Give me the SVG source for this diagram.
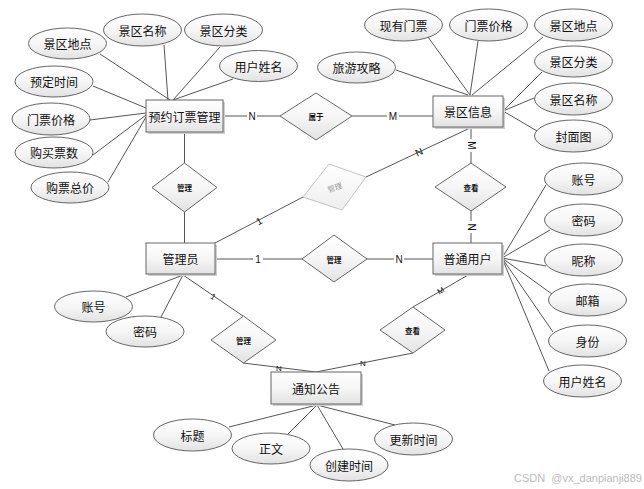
<svg xmlns="http://www.w3.org/2000/svg" width="644" height="489" viewBox="0 0 644 489">
<defs>
<linearGradient id="g" x1="0" y1="0" x2="0" y2="1">
<stop offset="0" stop-color="#ffffff"/>
<stop offset="0.5" stop-color="#f6f6f6"/>
<stop offset="1" stop-color="#e2e2e2"/>
</linearGradient>
<linearGradient id="gg" x1="0" y1="0" x2="0" y2="1">
<stop offset="0" stop-color="#ffffff"/>
<stop offset="1" stop-color="#eeeeee"/>
</linearGradient>
</defs>
<style>
.bg{fill:#ffffff}
.ent{fill:url(#g);stroke:#666;stroke-width:1}
.sh{fill:#cfcfcf}
.att{fill:url(#g);stroke:#555;stroke-width:0.9}
.rel{fill:url(#g);stroke:#555;stroke-width:0.9}
.relg{fill:url(#gg);stroke:#bbb;stroke-width:0.9}
.ln{stroke:#555;stroke-width:1;fill:none}
.t{font-family:"Noto Sans CJK SC","Liberation Sans",sans-serif;font-size:12px;fill:#111;text-anchor:middle;dominant-baseline:central}
.tr{font-family:"Noto Sans CJK SC","Liberation Sans",sans-serif;font-size:7.5px;font-weight:bold;fill:#111;text-anchor:middle;dominant-baseline:central}
.tg{font-family:"Noto Sans CJK SC","Liberation Sans",sans-serif;font-size:7.5px;fill:#999;text-anchor:middle;dominant-baseline:central}
.lb{font-family:"Liberation Sans",sans-serif;font-size:10px;fill:#111;text-anchor:middle;dominant-baseline:central}
.lbs{font-family:"Liberation Sans",sans-serif;font-size:8px;fill:#111;text-anchor:middle;dominant-baseline:central}
.wm{font-family:"Liberation Sans","Noto Sans",sans-serif;font-size:11px;fill:#bbb}
</style>
<rect class="bg" x="0" y="0" width="644" height="489"/>

<g id="connectors">
<line class="ln" x1="100" y1="54" x2="170" y2="100"/>
<line class="ln" x1="164" y1="45" x2="168" y2="100"/>
<line class="ln" x1="220" y1="47" x2="173" y2="100"/>
<line class="ln" x1="233" y1="79" x2="173" y2="100"/>
<line class="ln" x1="93" y1="86" x2="146" y2="108"/>
<line class="ln" x1="90" y1="120" x2="146" y2="113"/>
<line class="ln" x1="93" y1="155" x2="146" y2="115"/>
<line class="ln" x1="108" y1="182" x2="146" y2="117"/>
<line class="ln" x1="428" y1="37" x2="470" y2="95"/>
<line class="ln" x1="478" y1="41" x2="470" y2="95"/>
<line class="ln" x1="543" y1="37" x2="472" y2="95"/>
<line class="ln" x1="396" y1="70" x2="468" y2="95"/>
<line class="ln" x1="542" y1="72" x2="503" y2="111"/>
<line class="ln" x1="534" y1="98" x2="503" y2="111"/>
<line class="ln" x1="537" y1="131" x2="503" y2="111" stroke="#222"/>
<line class="ln" x1="502" y1="258" x2="546" y2="185"/>
<line class="ln" x1="502" y1="258" x2="550" y2="230"/>
<line class="ln" x1="502" y1="258" x2="546" y2="266"/>
<line class="ln" x1="502" y1="258" x2="552" y2="294"/>
<line class="ln" x1="502" y1="258" x2="553" y2="332"/>
<line class="ln" x1="502" y1="258" x2="549" y2="371"/>
<line class="ln" x1="126" y1="297" x2="183" y2="275"/>
<line class="ln" x1="161" y1="317" x2="183" y2="275"/>
<line class="ln" x1="317" y1="405" x2="229" y2="427"/>
<line class="ln" x1="317" y1="405" x2="288" y2="434"/>
<line class="ln" x1="317" y1="405" x2="343" y2="449"/>
<line class="ln" x1="317" y1="405" x2="395" y2="425"/>
<line class="ln" x1="223" y1="116" x2="280" y2="116"/>
<line class="ln" x1="352" y1="116" x2="433" y2="116"/>
<line class="ln" x1="184.5" y1="132" x2="184.5" y2="163"/>
<line class="ln" x1="184.5" y1="212" x2="184.5" y2="243"/>
<line class="ln" x1="471" y1="127" x2="471" y2="163"/>
<line class="ln" x1="471" y1="211" x2="471" y2="243"/>
<line class="ln" x1="470" y1="128" x2="366" y2="177"/>
<line class="ln" x1="303" y1="197" x2="215" y2="243"/>
<line class="ln" x1="215" y1="259" x2="302" y2="259"/>
<line class="ln" x1="367" y1="259" x2="433" y2="259"/>
<line class="ln" x1="183" y1="275" x2="243" y2="316"/>
<line class="ln" x1="243" y1="363" x2="316" y2="372"/>
<line class="ln" x1="413" y1="353" x2="316" y2="372"/>
<line class="ln" x1="468" y1="275" x2="413" y2="307"/>
<rect x="247" y="111" width="10" height="11" fill="#fff"/>
<text class="lb" x="252" y="116.5">N</text>
<rect x="387" y="111" width="12" height="11" fill="#fff"/>
<text class="lb" x="393" y="116.5">M</text>
<rect x="466" y="139" width="10" height="13" fill="#fff"/>
<text class="lb" x="471" y="145.5" transform="rotate(90 471 145.5)">M</text>
<rect x="466" y="221" width="10" height="12" fill="#fff"/>
<text class="lb" x="471" y="227" transform="rotate(90 471 227)">N</text>
<text class="lb" x="419" y="152" transform="rotate(-25 419 152)">N</text>
<text class="lb" x="259" y="221" transform="rotate(-28 259 221)">1</text>
<rect x="253" y="254" width="10" height="11" fill="#fff"/>
<text class="lb" x="258" y="259.5">1</text>
<rect x="394" y="254" width="10" height="11" fill="#fff"/>
<text class="lb" x="399" y="259.5">N</text>
<text class="lbs" x="213" y="297" transform="rotate(34 213 297)">1</text>
<text class="lbs" x="279" y="368">N</text>
<text class="lbs" x="363" y="363">N</text>
<text class="lbs" x="441" y="291" transform="rotate(-30 441 291)">M</text>
</g>

<g id="entity-yuyue">
<rect class="sh" x="148" y="102" width="77" height="32"/>
<rect class="ent" x="146" y="100" width="77" height="32"/>
<text class="t" x="184.5" y="116">预约订票管理</text>
</g>
<g id="entity-jingqu">
<rect class="sh" x="435" y="98" width="70" height="31"/>
<rect class="ent" x="433" y="96" width="70" height="31"/>
<text class="t" x="468" y="111.5">景区信息</text>
</g>
<g id="entity-admin">
<rect class="sh" x="148" y="245" width="69" height="31"/>
<rect class="ent" x="146" y="243" width="69" height="31"/>
<text class="t" x="180.5" y="258.5">管理员</text>
</g>
<g id="entity-user">
<rect class="sh" x="435" y="245" width="69" height="31"/>
<rect class="ent" x="433" y="243" width="69" height="31"/>
<text class="t" x="467.5" y="258.5">普通用户</text>
</g>
<g id="entity-notice">
<rect class="sh" x="273" y="374" width="90" height="32"/>
<rect class="ent" x="271" y="372" width="90" height="32"/>
<text class="t" x="316" y="388">通知公告</text>
</g>

<g id="rel-shuyu">
<polygon class="rel" points="316,93 352,116 316,140 280,116"/>
<text class="tr" x="316" y="116">属于</text>
</g>
<g id="rel-guanli-1">
<polygon class="rel" points="184.5,163 217,187.5 184.5,212 152,187.5"/>
<text class="tr" x="184.5" y="187.5">管理</text>
</g>
<g id="rel-guanli-grey">
<polygon class="relg" points="329,164 366,177 342,210 303,197"/>
<text class="tg" x="334.5" y="187" transform="rotate(-20 334.5 187)">管理</text>
</g>
<g id="rel-chakan-1">
<polygon class="rel" points="471,163 506,187 471,211 435,187"/>
<text class="tr" x="471" y="187">查看</text>
</g>
<g id="rel-guanli-2">
<polygon class="rel" points="334,235 367,259 334,282 302,259"/>
<text class="tr" x="334" y="259">管理</text>
</g>
<g id="rel-chakan-2">
<polygon class="rel" points="413,307 445,330 413,353 380,330"/>
<text class="tr" x="412.5" y="330">查看</text>
</g>
<g id="rel-guanli-3">
<polygon class="rel" points="243.5,316 276,340 243.5,363 211,340"/>
<text class="tr" x="243.5" y="340">管理</text>
</g>

<g id="attrs-yuyue">
<ellipse class="att" cx="67.5" cy="43.5" rx="39" ry="15.5"/><text class="t" x="67.5" y="43.5">景区地点</text>
<ellipse class="att" cx="142.5" cy="30" rx="39" ry="16"/><text class="t" x="142.5" y="30">景区名称</text>
<ellipse class="att" cx="223.5" cy="30" rx="39" ry="16"/><text class="t" x="223.5" y="30">景区分类</text>
<ellipse class="att" cx="258.5" cy="66" rx="39" ry="15.5"/><text class="t" x="258.5" y="66">用户姓名</text>
<ellipse class="att" cx="54" cy="81.5" rx="39" ry="15.5"/><text class="t" x="54" y="81.5">预定时间</text>
<ellipse class="att" cx="51" cy="119" rx="39" ry="16"/><text class="t" x="51" y="119">门票价格</text>
<ellipse class="att" cx="54" cy="152.5" rx="39" ry="15.5"/><text class="t" x="54" y="152.5">购买票数</text>
<ellipse class="att" cx="70" cy="187.5" rx="39" ry="15.5"/><text class="t" x="70" y="187.5">购票总价</text>
</g>
<g id="attrs-jingqu">
<ellipse class="att" cx="403.5" cy="25" rx="39" ry="16"/><text class="t" x="403.5" y="25">现有门票</text>
<ellipse class="att" cx="488.5" cy="25" rx="39" ry="16"/><text class="t" x="488.5" y="25">门票价格</text>
<ellipse class="att" cx="573.5" cy="25" rx="39" ry="16"/><text class="t" x="573.5" y="25">景区地点</text>
<ellipse class="att" cx="356.5" cy="67.5" rx="39" ry="15.5"/><text class="t" x="356.5" y="67.5">旅游攻略</text>
<ellipse class="att" cx="573.5" cy="61.5" rx="39" ry="15.5"/><text class="t" x="573.5" y="61.5">景区分类</text>
<ellipse class="att" cx="573.5" cy="99" rx="39" ry="16"/><text class="t" x="573.5" y="99">景区名称</text>
<ellipse class="att" cx="573.5" cy="136" rx="39" ry="16"/><text class="t" x="573.5" y="136">封面图</text>
</g>
<g id="attrs-user">
<ellipse class="att" cx="583.5" cy="179" rx="39" ry="16"/><text class="t" x="583.5" y="179">账号</text>
<ellipse class="att" cx="583.5" cy="220" rx="39" ry="16"/><text class="t" x="583.5" y="220">密码</text>
<ellipse class="att" cx="583.5" cy="260" rx="39" ry="16"/><text class="t" x="583.5" y="260">昵称</text>
<ellipse class="att" cx="587.5" cy="300" rx="39" ry="16"/><text class="t" x="587.5" y="300">邮箱</text>
<ellipse class="att" cx="587.5" cy="341" rx="39" ry="16"/><text class="t" x="587.5" y="341">身份</text>
<ellipse class="att" cx="582.5" cy="381" rx="39" ry="16"/><text class="t" x="582.5" y="381">用户姓名</text>
</g>
<g id="attrs-admin">
<ellipse class="att" cx="93.5" cy="306.5" rx="39" ry="15.5"/><text class="t" x="93.5" y="306.5">账号</text>
<ellipse class="att" cx="145" cy="331.5" rx="39" ry="15.5"/><text class="t" x="145" y="331.5">密码</text>
</g>
<g id="attrs-notice">
<ellipse class="att" cx="192.5" cy="435" rx="39" ry="16"/><text class="t" x="192.5" y="435">标题</text>
<ellipse class="att" cx="271" cy="448.5" rx="39" ry="15.5"/><text class="t" x="271" y="448.5">正文</text>
<ellipse class="att" cx="349" cy="465" rx="39" ry="16"/><text class="t" x="349" y="465">创建时间</text>
<ellipse class="att" cx="413.5" cy="439" rx="39" ry="16"/><text class="t" x="413.5" y="439">更新时间</text>
</g>

<text class="wm" x="514" y="482" xml:space="preserve">CSDN  @vx_danpianji889</text>
</svg>
